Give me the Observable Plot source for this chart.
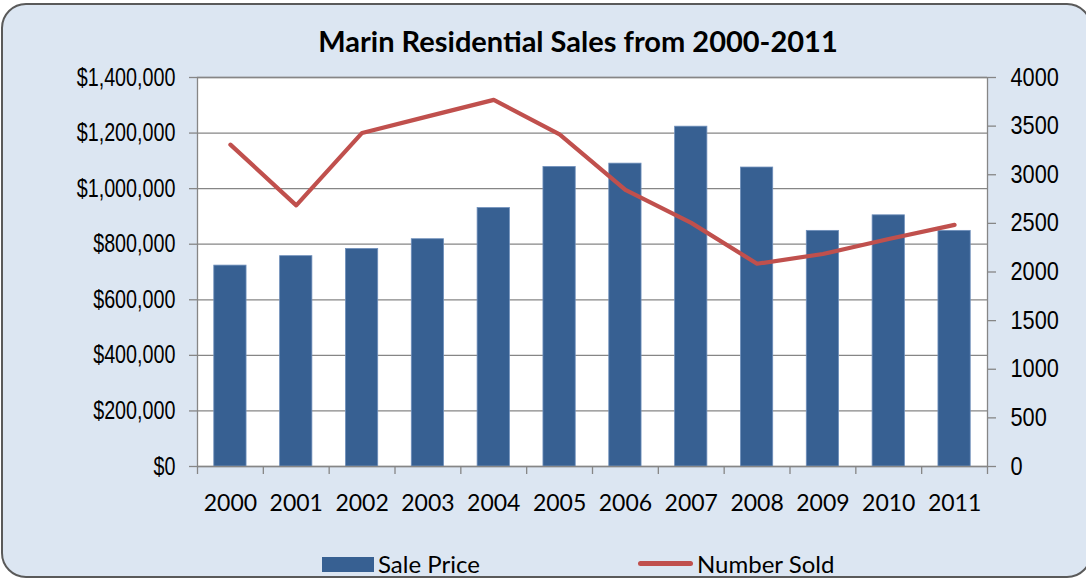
<!DOCTYPE html>
<html>
<head>
<meta charset="utf-8">
<script src="https://cdn.jsdelivr.net/npm/d3@7"></script>
<script src="https://cdn.jsdelivr.net/npm/@observablehq/plot@0.6"></script>
<style>
  html, body { margin: 0; padding: 0; width: 1086px; height: 579px; overflow: hidden; background: #ffffff; }
  #wrap { position: relative; width: 1086px; height: 579px; overflow: hidden; }
  #frame { position: absolute; left: 1px; top: 3px; width: 1091px; height: 575px; box-sizing: border-box;
           border: 2px solid #5a5a5a; border-radius: 25px; background: #dce6f2; }
  #title { position: absolute; left: 78px; width: 1000px; top: 26px; text-align: center;
           font-family: Lato, "Open Sans", sans-serif; font-weight: bold; font-size: 29px; line-height: 29px; color: #000; }
  #chart { position: absolute; left: 0; top: 60px; }
  .leg { position: absolute; font-family: Lato, "Open Sans", sans-serif; font-size: 24px; line-height: 24px; color: #000; }
</style>
</head>
<body>
<div id="wrap">
  <div id="frame"></div>
  <div id="title">Marin Residential Sales from 2000-2011</div>
  <div id="chart"></div>
  <div id="legend"></div>
</div>
<script>
// ---- data ----
const years = ["2000","2001","2002","2003","2004","2005","2006","2007","2008","2009","2010","2011"];
const salePrice = [723000, 757000, 783000, 818000, 930000, 1078000, 1090000, 1223000, 1076000, 848000, 904000, 848000];
const numberSold = [3310, 2685, 3430, 3600, 3770, 3415, 2845, 2505, 2085, 2185, 2340, 2485];
const leftTicks = [0, 200000, 400000, 600000, 800000, 1000000, 1200000, 1400000];
const rightTicks = [0, 500, 1000, 1500, 2000, 2500, 3000, 3500, 4000];
const seriesNames = ["Sale Price", "Number Sold"];

// ---- styling / layout ----
const barColor = "#376092";
const lineColor = "#c0504d";
const gridColor = "#868686";
const W = 1086, H = 460;
const mL = 197, mR = 99, mT = 17, mB = 54;
const leftMax = 1400000, rightMax = 4000;
const ratio = leftMax / rightMax;
const step = (W - mL - mR) / years.length;

const rows = years.map((y, i) => ({year: y, price: salePrice[i], sold: numberSold[i]}));
const fmtMoney = d => "$" + d3.format(",")(d);
const axisFont = "'Liberation Sans', Arial, sans-serif";

const chart = Plot.plot({
  width: W, height: H,
  marginLeft: mL, marginRight: mR, marginTop: mT, marginBottom: mB,
  style: {background: "transparent", overflow: "visible"},
  x: {domain: years, paddingInner: 0.51, paddingOuter: 0.255, round: false},
  y: {domain: [0, leftMax]},
  marks: [
    Plot.frame({fill: "white", stroke: null}),
    Plot.gridY(leftTicks, {stroke: gridColor, strokeOpacity: 1, strokeWidth: 1.3}),
    Plot.barY(rows, {x: "year", y: "price", fill: barColor, stroke: "#6f8fbb", strokeWidth: 0.8}),
    Plot.lineY(rows, {x: "year", y: d => d.sold * ratio, stroke: lineColor, strokeWidth: 4.2,
                      strokeLinecap: "round", strokeLinejoin: "round"}),
    Plot.frame({stroke: gridColor, strokeWidth: 1.3}),
    // left axis
    Plot.axisY(leftTicks, {anchor: "left", tickSize: 8, tickPadding: 14, tickFormat: fmtMoney,
                           stroke: gridColor, strokeWidth: 1.3, fill: "#000", fontSize: 25, fontFamily: axisFont, label: null}),
    // right axis (Number Sold), mapped onto left scale
    Plot.axisY(rightTicks.map(d => d * ratio), {anchor: "right", tickSize: 8, tickPadding: 15,
                           tickFormat: d => String(Math.round(d / ratio)),
                           stroke: gridColor, strokeWidth: 1.3, fill: "#000", fontSize: 25, fontFamily: axisFont, label: null}),
    // x boundary ticks
    Plot.axisX(years, {anchor: "bottom", tickSize: 8, tickFormat: () => "", dx: -step / 2, stroke: gridColor, strokeWidth: 1.3, label: null}),
    Plot.axisX([years[years.length - 1]], {anchor: "bottom", tickSize: 8, tickFormat: () => "", dx: step / 2, stroke: gridColor, strokeWidth: 1.3, label: null}),
    // x labels
    Plot.axisX(years, {anchor: "bottom", tickSize: 0, tickPadding: 28, fontSize: 23,
                       fontFamily: "Lato, 'Open Sans', sans-serif", fill: "#000", label: null})
  ]
});
document.getElementById("chart").appendChild(chart);

// condense the y-axis tick labels (narrow Arial look)
chart.querySelectorAll('g[aria-label="y-axis tick label"]').forEach(g => {
  const anchor = g.getAttribute("text-anchor");
  g.querySelectorAll("text").forEach(t => {
    const a = t.getAttribute("text-anchor") || anchor;
    const k = a === "end" ? 0.79 : 0.87;
    const tr = t.getAttribute("transform") || "";
    const x = +(t.getAttribute("x") || 0);
    t.setAttribute("transform", `${tr} translate(${x},0) scale(${k},1) translate(${-x},0)`);
  });
});

// ---- legend ----
const legend = document.getElementById("legend");
legend.innerHTML = `
  <div style="position:absolute;left:322px;top:557px;width:52px;height:15px;background:${barColor}"></div>
  <div class="leg" style="left:378px;top:552px;">${seriesNames[0]}</div>
  <div style="position:absolute;left:638px;top:561px;width:55px;height:5px;border-radius:3px;background:${lineColor}"></div>
  <div class="leg" style="left:697px;top:552px;">${seriesNames[1]}</div>
`;
</script>
</body>
</html>
